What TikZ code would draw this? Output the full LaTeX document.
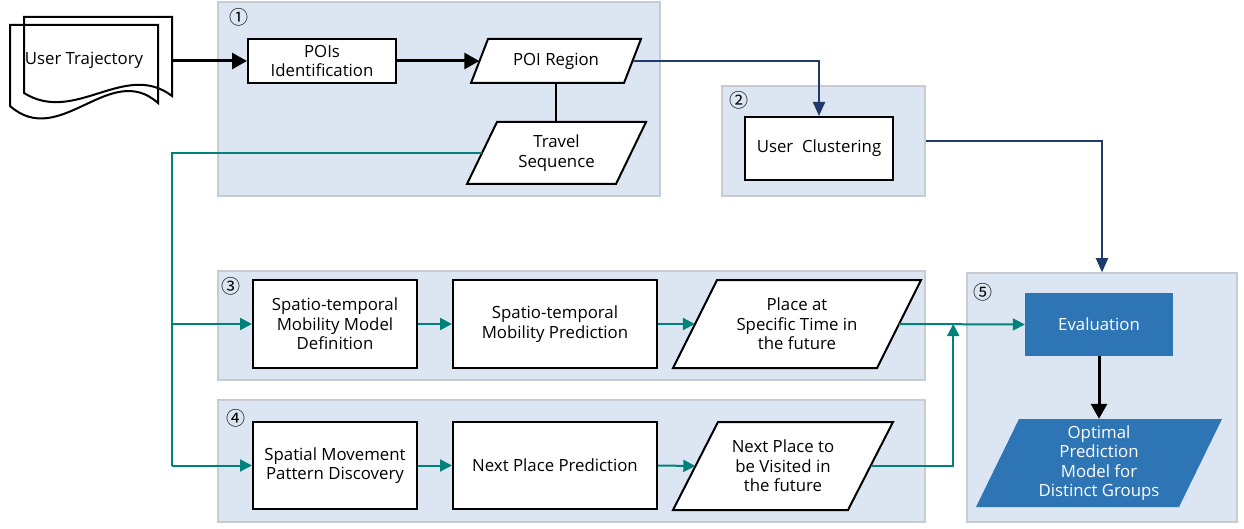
\documentclass[tikz,border=0pt]{standalone}
\usepackage{fontspec}
\setmainfont{Open Sans}
\newfontfamily\circfont{Noto Sans CJK SC}
\usetikzlibrary{arrows.meta}

\definecolor{panelfill}{HTML}{DCE6F2}
\definecolor{panelline}{HTML}{C8CCD2}
\definecolor{tealline}{HTML}{00827A}
\definecolor{navyline}{HTML}{1F3A6B}
\definecolor{evalblue}{HTML}{2E75B6}

% slanted data box: name, x, y, mid width, height, half slant, fill style, text style, text
\newcommand\slantbox[9]{%
  \path[#7] ({#2-#4/2-#6},{#3+#5/2}) -- ({#2+#4/2-#6},{#3+#5/2})
    -- ({#2+#4/2+#6},{#3-#5/2}) -- ({#2-#4/2+#6},{#3-#5/2}) -- cycle;
  \node[boxtext, #8, minimum width=#4pt, minimum height=#5pt] (#1) at (#2,#3) {#9};
}

\begin{document}
\begin{tikzpicture}[x=1pt, y=-1pt,
  txt/.style={font=\fontsize{16.8}{19.5}\selectfont},
  boxtext/.style={txt, draw=none, align=center, inner sep=0pt},
  procbox/.style={txt, draw=black, line width=2pt, fill=white, align=center, inner sep=0pt},
  evalbox/.style={txt, draw=none, fill=evalblue, text=white, align=center, inner sep=0pt},
  panel/.style={draw=panelline, line width=1.5pt, fill=panelfill, inner sep=0pt},
  slantline/.style={draw=black, line width=2pt, fill=white, line join=miter},
  slantblue/.style={fill=evalblue},
  circnum/.style={font=\circfont\fontsize{19}{19}\selectfont, inner sep=0pt},
  blackarrow/.style={draw=black, line width=3pt, -{Triangle[length=15pt,width=16pt]}},
  blackline/.style={draw=black, line width=2pt},
  tealarrow/.style={draw=tealline, line width=2pt, -{Triangle[length=12pt,width=12pt]}},
  tealline/.style={draw=tealline, line width=2pt},
  navyarrow/.style={draw=navyline, line width=2pt, -{Triangle[length=14pt,width=12pt]}}
]
\useasboundingbox (0,0) rectangle (1244,529);

% stage panels
\node[panel, minimum width=442pt, minimum height=194pt] (p1) at (439,99) {};
\node[panel, minimum width=203pt, minimum height=110pt] (p2) at (823.5,141) {};
\node[panel, minimum width=707pt, minimum height=109pt] (p3) at (571.5,325.5) {};
\node[panel, minimum width=707pt, minimum height=122pt] (p4) at (571.5,461) {};
\node[panel, minimum width=270pt, minimum height=249pt] (p5) at (1102,397.5) {};

\node[circnum] (n1) at (239,17) {①};
\node[circnum] (n2) at (739,100) {②};
\node[circnum] (n3) at (231,286) {③};
\node[circnum] (n4) at (236,418) {④};
\node[circnum] (n5) at (983,292) {⑤};

% input document (two stacked sheets)
\draw[line width=2pt] (172,96) .. controls (125,60) and (75,125) .. (24,93)
  -- (24,17) -- (172,17) -- cycle;
\draw[line width=2pt] (158,103) .. controls (110,60) and (60,150) .. (10,106)
  -- (10,25) -- (158,25) -- cycle;
\node[boxtext] (traj) at (84,60) {User Trajectory};
\coordinate (trajR) at (173,61);

% stage 1
\node[procbox, minimum width=148pt, minimum height=44pt] (pois) at (322,61) {POIs\\Identification};
\slantbox{poireg}{556}{61}{153}{44}{8.5}{slantline}{}{POI Region}
\slantbox{travel}{556.5}{153}{149}{62}{15}{slantline}{}{Travel\\Sequence}

% stage 2
\node[procbox, minimum width=148pt, minimum height=63pt] (clust) at (819,148.5) {User\ \ Clustering};

% stage 3
\node[procbox, minimum width=164pt, minimum height=88pt] (b3a) at (335,324) {Spatio-temporal\\Mobility Model\\Definition};
\node[procbox, minimum width=204pt, minimum height=88pt] (b3b) at (555,324) {Spatio-temporal\\Mobility Prediction};
\slantbox{para3}{797}{324}{204}{88}{22}{slantline}{}{Place at\\Specific Time in\\the future}

% stage 4
\node[procbox, minimum width=164pt, minimum height=87pt] (b4a) at (335,465.5) {Spatial Movement\\Pattern Discovery};
\node[procbox, minimum width=204pt, minimum height=87pt] (b4b) at (555,465.5) {Next Place Prediction};
\slantbox{para4}{783}{466}{175}{88}{22.5}{slantline}{}{Next Place to\\be Visited in\\the future}

% stage 5
\node[evalbox, minimum width=148pt, minimum height=63pt] (eval) at (1099,324.5) {Evaluation};
\slantbox{opt}{1099}{463}{203}{88}{21.5}{slantblue}{text=white}{Optimal\\Prediction\\Model for\\Distinct Groups}

% connectors
\draw[blackarrow] (trajR) -- (pois.west);
\draw[blackarrow] (pois.east) -- (poireg.west);
\draw[blackline] (poireg.south) -- (poireg.south |- travel.north);
\draw[navyarrow] (poireg.east) -| (clust.north);
\draw[navyarrow] (p2.east) -| (p5.north);

\draw[tealline] (travel.west) -| ([xshift=-80pt]b4a.west);
\draw[tealarrow] ([xshift=-80pt]b4a.west) -- (b4a.west);
\draw[tealarrow] ([xshift=-80pt]b3a.west) -- (b3a.west);
\draw[tealarrow] (b3a.east) -- (b3b.west);
\draw[tealarrow] (b3b.east) -- (para3.west);
\draw[tealarrow] (b4a.east) -- (b4b.west);
\draw[tealarrow] (b4b.east) -- (para4.west);
\draw[tealarrow] (para3.east) -- (eval.west);
\draw[tealarrow] (para4.east) -| ([xshift=54pt]para3.east);

\draw[blackarrow] (eval.south) -- (opt.north);
\end{tikzpicture}
\end{document}
